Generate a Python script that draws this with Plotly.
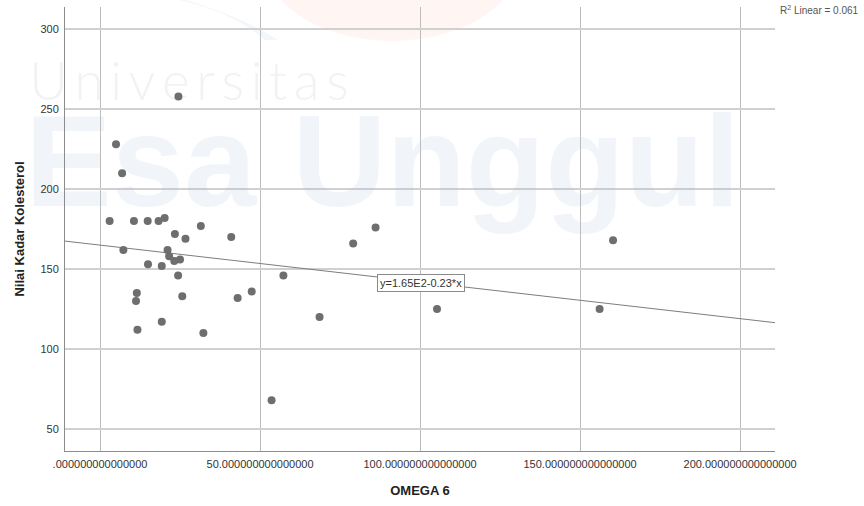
import plotly.graph_objects as go

# OMEGA 6 intake vs. cholesterol level
omega6 = [24.5, 5.0, 6.9, 3.0, 10.6, 14.9, 18.3, 20.2, 31.5, 23.4, 26.7, 41.0,
          7.3, 21.1, 21.6, 23.2, 25.0, 15.0, 19.3, 24.4, 11.5, 11.25, 25.7,
          43.0, 47.4, 11.7, 19.3, 32.3, 79.1, 86.1, 160.3, 57.3, 68.6, 53.6,
          105.3, 156.1]
kolesterol = [258, 228, 210, 180, 180, 180, 180, 182, 177, 172, 169, 170,
              162, 162, 158, 155, 156, 153, 152, 146, 135, 130, 133,
              132, 136, 112, 117, 110, 166, 176, 168, 146, 120, 68,
              125, 125]

# Linear fit shown on the chart
intercept = 165.0
slope = -0.23
r_squared = 0.061
fit_label = "y=1.65E2-0.23*x"

x_range = [-10.94, 210.9]
y_range = [36.25, 313.9]
x_ticks = [0, 50, 100, 150, 200]
x_tick_text = [".000000000000000", "50.000000000000000", "100.000000000000000",
               "150.000000000000000", "200.000000000000000"]
y_ticks = [50, 100, 150, 200, 250, 300]

FONT = "Arial, Liberation Sans, sans-serif"

fig = go.Figure()

# faint institutional watermark behind the data
fig.add_trace(go.Scatter(
    x=[27.8], y=[264.0], mode="text",
    text=["U\u2009n\u2009i\u2009v\u2009e\u2009r\u2009s\u2009i\u2009t\u2009a\u2009s"],
    textposition="middle center", cliponaxis=False, hoverinfo="skip",
    textfont=dict(family="Lato, Open Sans, sans-serif", size=53, weight=300,
                  color="rgba(200,205,212,0.26)"),
    showlegend=False))
fig.add_trace(go.Scatter(
    x=[88.3], y=[209.5], mode="text", text=["Esa Unggul"],
    textposition="middle center", cliponaxis=False, hoverinfo="skip",
    textfont=dict(family=FONT, size=130, weight="bold",
                  color="rgba(170,195,225,0.16)"),
    showlegend=False))

# regression line across the full axis range
fig.add_trace(go.Scatter(
    x=x_range, y=[intercept + slope * v for v in x_range],
    mode="lines", line=dict(color="#7d7d7d", width=1),
    hoverinfo="skip", showlegend=False))

fig.add_trace(go.Scatter(
    x=omega6, y=kolesterol, mode="markers",
    marker=dict(color="#6e6e6e", size=8, line=dict(width=0)),
    showlegend=False))

# soft logo tint at the top of the page
fig.add_shape(type="circle", xref="paper", yref="paper",
              x0=(262 - 65) / 710, x1=(522 - 65) / 710,
              y0=(451 + 130) / 444, y1=(451 - 41) / 444,
              fillcolor="rgba(250,140,110,0.08)", line=dict(width=0), layer="below")
fig.add_shape(type="path", xref="paper", yref="paper",
              path="M %f %f Q %f %f %f %f L %f %f Q %f %f %f %f Z" % (
                  (170 - 65) / 710, (451 + 5) / 444,
                  (240 - 65) / 710, (451 - 15) / 444,
                  (278 - 65) / 710, (451 - 40) / 444,
                  (265 - 65) / 710, (451 - 40) / 444,
                  (225 - 65) / 710, (451 - 5) / 444,
                  (150 - 65) / 710, (451 + 5) / 444),
              fillcolor="rgba(170,195,225,0.14)", line=dict(width=0), layer="below")

fig.add_annotation(
    x=100.2, y=141.1, xref="x", yref="y", text=fit_label, showarrow=False,
    font=dict(family=FONT, size=11, color="#333333"),
    bgcolor="#ffffff", bordercolor="#8a8a8a", borderwidth=1, borderpad=2)

fig.add_annotation(
    x=(778 - 65) / 710, y=(451 - 10) / 444, xref="paper", yref="paper",
    xanchor="left", yanchor="middle", showarrow=False,
    text="R<sup>2</sup> Linear = %.3f" % r_squared,
    font=dict(family=FONT, size=10, color="#555555"))

fig.update_layout(
    width=864, height=506,
    margin=dict(l=65, r=89, t=7, b=55),
    paper_bgcolor="white", plot_bgcolor="white",
    font=dict(family=FONT, size=11, color="#333333"),
    xaxis=dict(range=x_range, tickvals=x_ticks, ticktext=x_tick_text,
               showgrid=True, gridcolor="#bdbdbd", gridwidth=1,
               zeroline=False, showline=True, linecolor="#8c8c8c", linewidth=1,
               ticks="", ticklabelstandoff=3,
               tickfont=dict(family=FONT, size=11, color="#333333"),
               title=dict(text="<b>OMEGA 6</b>", standoff=16,
                          font=dict(family=FONT, size=13, color="#222222"))),
    yaxis=dict(range=y_range, tickvals=y_ticks,
               showgrid=True, gridcolor="#d0d0d0", gridwidth=1.5,
               zeroline=False, showline=True, linecolor="#8c8c8c", linewidth=1,
               ticks="", ticklabelstandoff=3,
               tickfont=dict(family=FONT, size=11, color="#333333"),
               title=dict(text="<b>Nilai Kadar Kolesterol</b>", standoff=12,
                          font=dict(family=FONT, size=13, color="#222222"))),
)

fig.write_html("out.html")
